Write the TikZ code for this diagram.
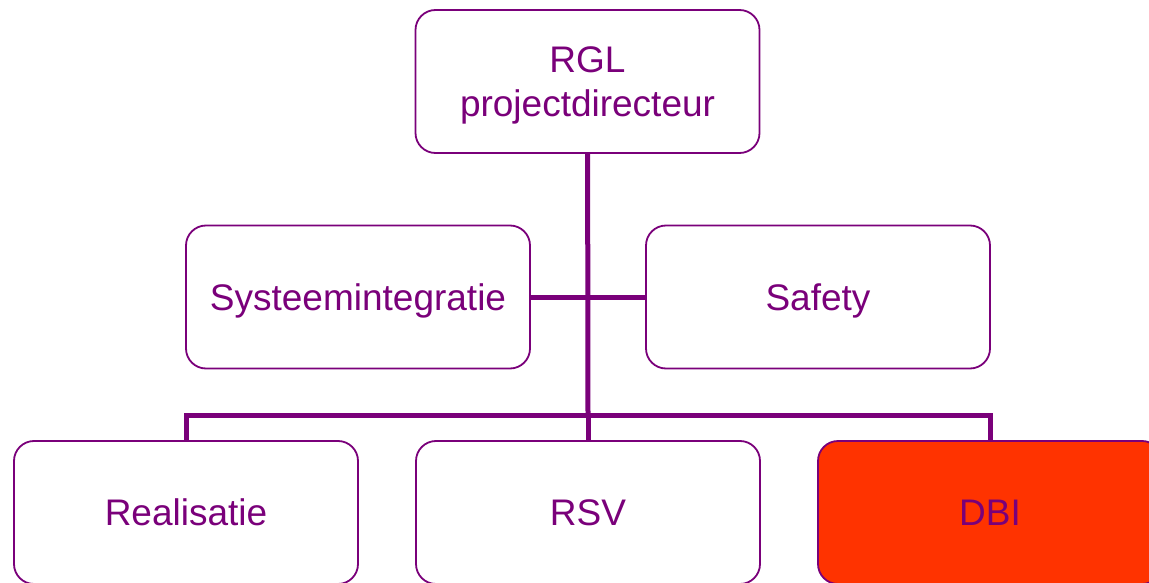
\documentclass[tikz,border=0pt]{standalone}
\usepackage{fontspec}
\setmainfont{Liberation Sans}
\usetikzlibrary{positioning}
\definecolor{plum}{HTML}{7A007A}
\definecolor{alarm}{HTML}{FF3300}

\begin{document}
\begin{tikzpicture}[x=1pt,y=-1pt,
  unit/.style={draw=plum,line width=1.8pt,rounded corners=20pt,fill=white,
    minimum width=344pt,minimum height=143pt,text=plum,align=center,
    text depth=0pt,font=\fontsize{37}{44}\selectfont},
  link/.style={draw=plum,line width=5pt}]
  \useasboundingbox (0,0) rectangle (1149,583);
  \clip (0,0) rectangle (1149,583);
  \node[unit] (rgl) at (587.5,81.5) {RGL\\projectdirecteur};
  \node[unit] (sys) at (358,297) {Systeemintegratie};
  \node[unit] (safety) at (818,297) {Safety};
  \node[unit] (real) at (186,512.5) {Realisatie};
  \node[unit] (rsv) at (588,512.5) {RSV};
  \node[unit,fill=alarm] (dbi) at (990,512.5) {DBI};
  \coordinate (j) at (588,415);
  \path[link] (rgl) -- (j);
  \path[link] (sys) -- (safety);
  \path[link] (real.north) |- (j) -| (dbi.north);
  \path[link] (j) -- (rsv);
\end{tikzpicture}
\end{document}
